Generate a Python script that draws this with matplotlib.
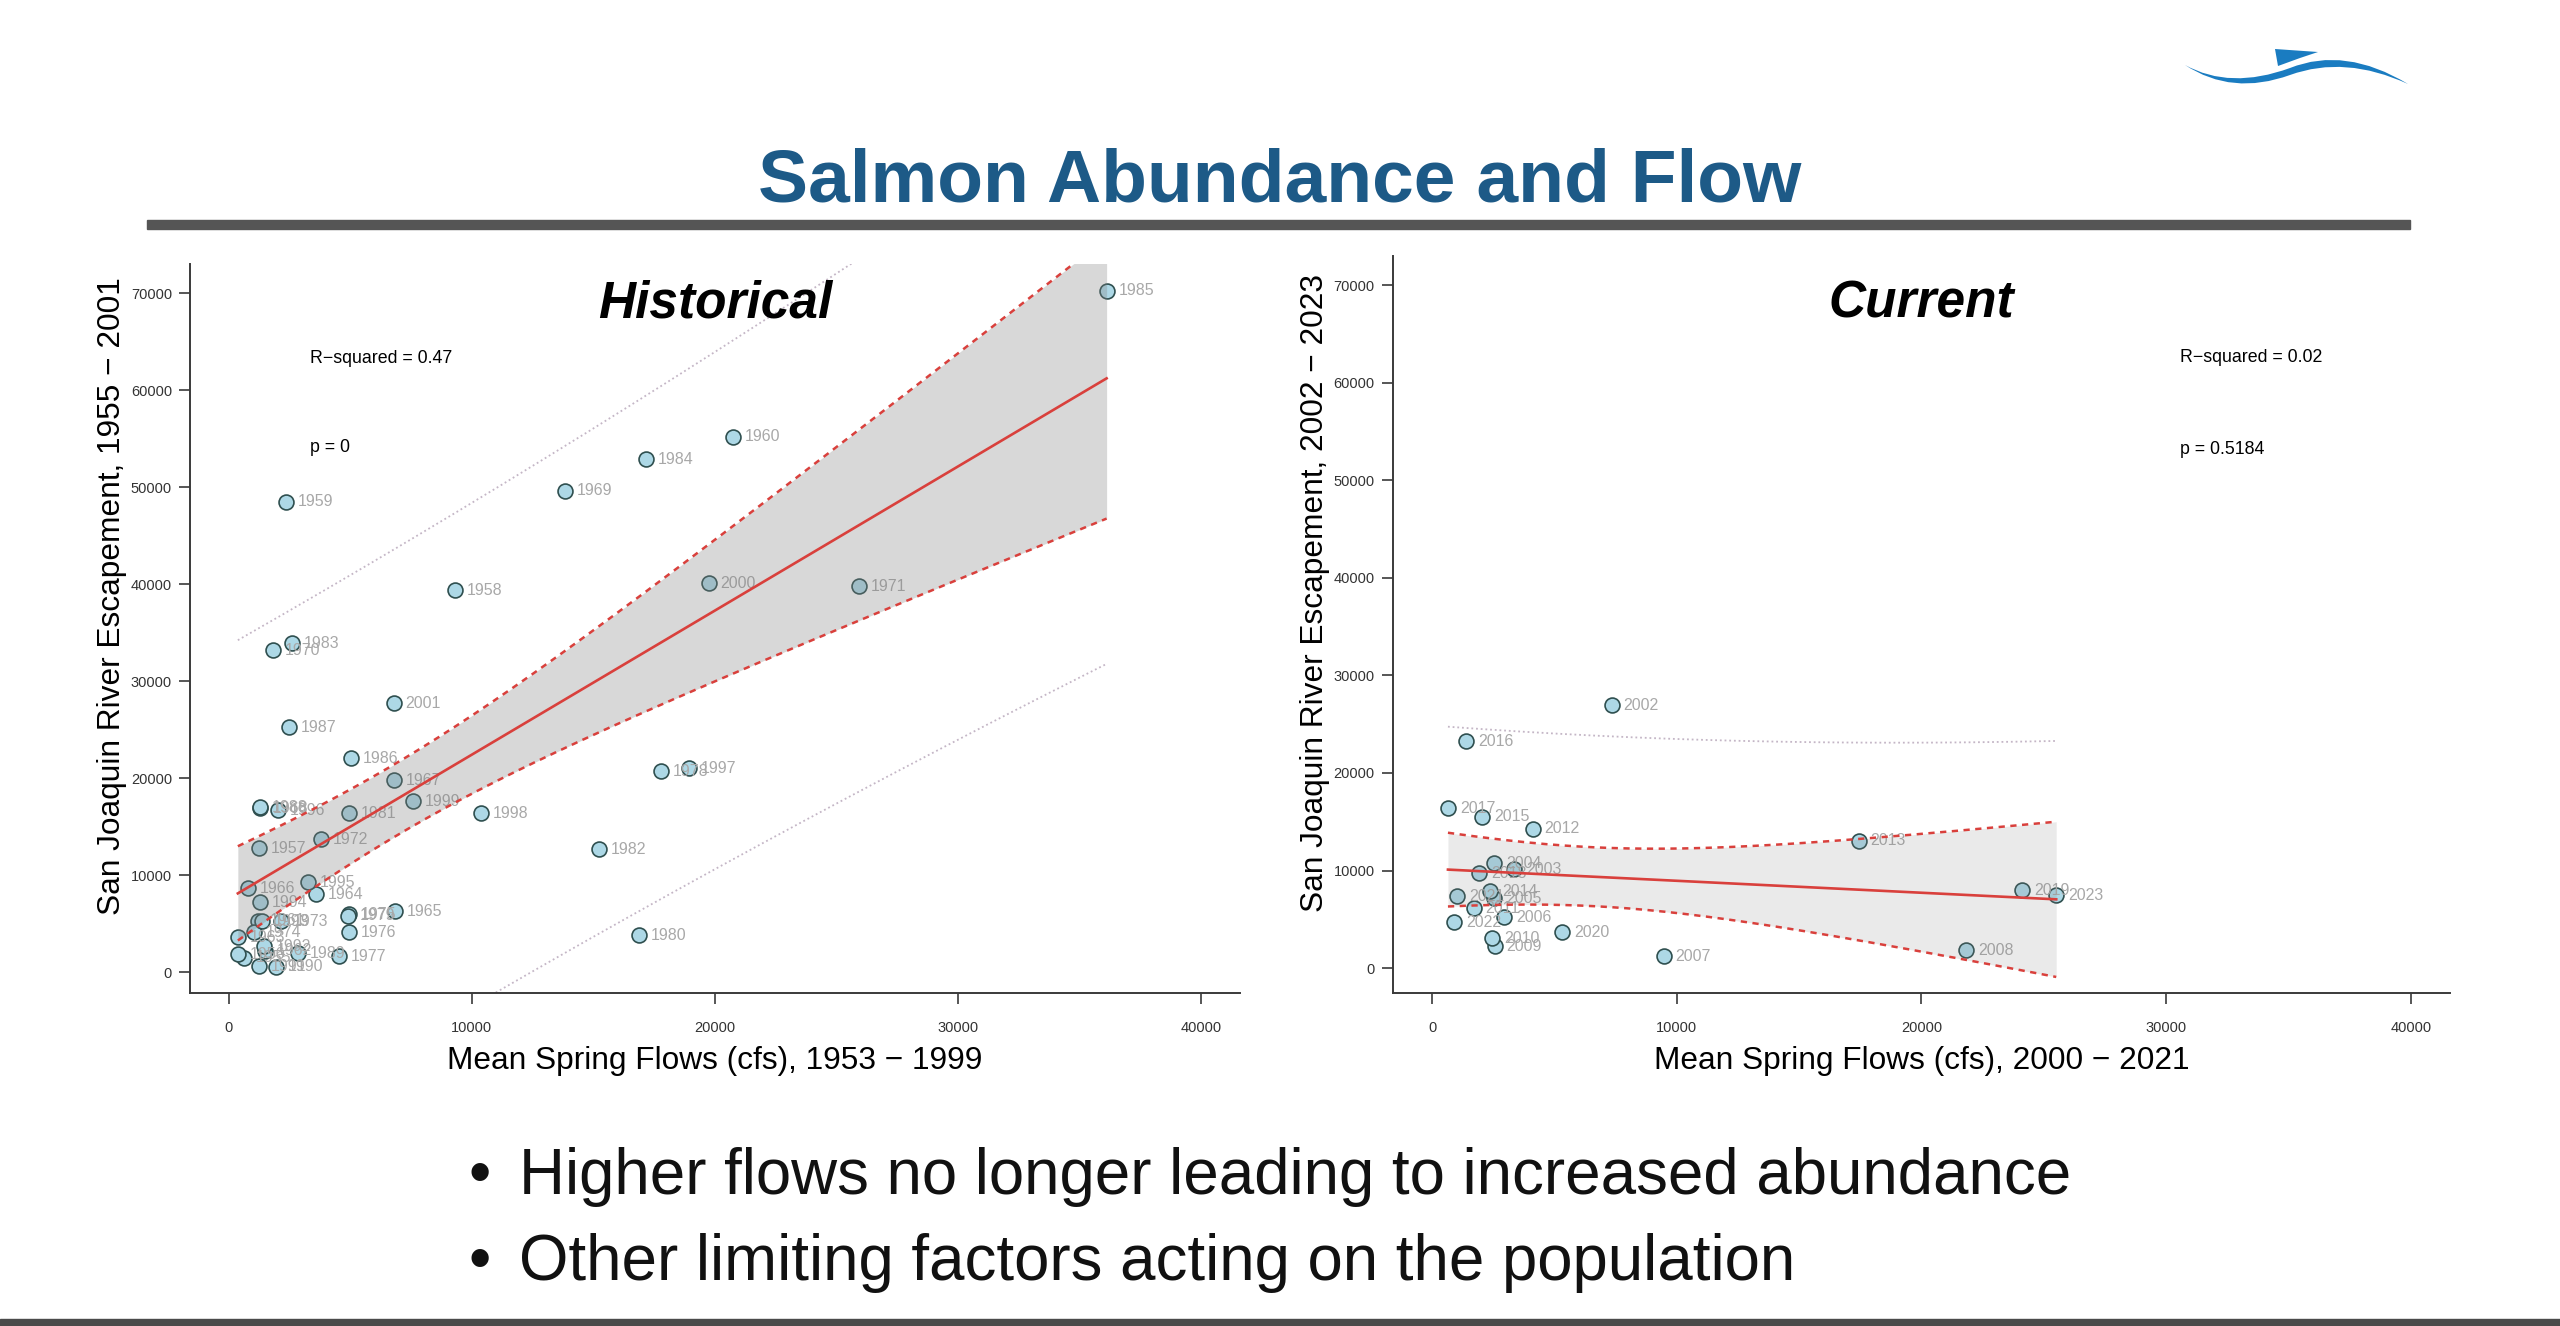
import numpy as np
import matplotlib.pyplot as plt
import matplotlib.transforms as mtransforms
from matplotlib.path import Path
from matplotlib.patches import PathPatch, Polygon, Rectangle

plt.rcParams['font.family'] = ['Liberation Sans', 'DejaVu Sans']

# historical period: escapement 1955-2001 against spring flows 1953-1999
hist_years = [1955, 1956, 1957, 1958, 1959, 1960, 1961, 1962, 1963, 1964,
              1965, 1966, 1967, 1968, 1969, 1970, 1971, 1972, 1973, 1974,
              1975, 1976, 1977, 1978, 1979, 1980, 1981, 1982, 1983, 1984,
              1985, 1986, 1987, 1988, 1989, 1990, 1991, 1992, 1993, 1994,
              1995, 1996, 1997, 1998, 1999, 2000, 2001]
hist_flow = [620, 370, 1230, 9300, 2350, 20720, 1200, 1500, 370, 3580,
             6830, 780, 6800, 1300, 13820, 1830, 25920, 3790, 2140, 1030,
             4940, 4940, 4530, 17780, 4900, 16870, 4940, 15230, 2580, 17150,
             36110, 5020, 2470, 1270, 2840, 1930, 1230, 1440, 1360, 1270,
             3250, 2010, 18930, 10370, 7570, 19740, 6790]
hist_esc = [1450, 1860, 12780, 39380, 48480, 55190, 5300, 2200, 3610, 8040,
            6290, 8660, 19800, 16900, 49620, 33200, 39790, 13710, 5260, 4120,
            5980, 4120, 1650, 20720, 5800, 3810, 16390, 12680, 33880, 52850,
            70240, 22060, 25260, 17010, 1960, 520, 620, 2680, 5260, 7220,
            9280, 16700, 21030, 16390, 17630, 40070, 27700]

# current period: escapement 2002-2023 against spring flows 2000-2021
cur_years = [2002, 2003, 2004, 2005, 2006, 2007, 2008, 2009, 2010, 2011, 2012,
             2013, 2014, 2015, 2016, 2017, 2018, 2019, 2020, 2021, 2022, 2023]
cur_flow = [7350, 3350, 2530, 2530, 2940, 9470, 21840, 2570, 2450, 1710, 4120,
            17430, 2370, 2040, 1390, 650, 1920, 24120, 5310, 1020, 900, 25510]
cur_esc = [26970, 10150, 10770, 7180, 5230, 1230, 1850, 2260, 3080, 6150, 14260,
           13030, 7900, 15490, 23280, 16410, 9740, 8000, 3690, 7380, 4720, 7490]

xticks = [0, 10000, 20000, 30000, 40000]
yticks = [0, 10000, 20000, 30000, 40000, 50000, 60000, 70000]

RED = '#d9403c'
AXC = '#3a3a3a'


def fit_bands(x, y, t):
    x = np.asarray(x, float)
    y = np.asarray(y, float)
    n = len(x)
    b, a = np.polyfit(x, y, 1)
    s = np.sqrt(((y - (a + b * x)) ** 2).sum() / (n - 2))
    xx = np.linspace(x.min(), x.max(), 200)
    yy = a + b * xx
    lev = 1 / n + (xx - x.mean()) ** 2 / ((x - x.mean()) ** 2).sum()
    return xx, yy, t * s * np.sqrt(lev), t * s * np.sqrt(1 + lev)


def panel(ax, years, flow, esc, t, band_alpha, ylim):
    ax.scatter(flow, esc, s=115, c='#add8e6', edgecolors='#2f4f4f',
               linewidths=1.2, zorder=3)
    for yr, x, y in zip(years, flow, esc):
        ax.annotate(str(yr), (x, y), xytext=(8.5, 0), textcoords='offset points',
                    ha='left', va='center', fontsize=11.5, color='#a8a8a8',
                    zorder=3)
    xx, yy, ci, pi = fit_bands(flow, esc, t)
    ax.fill_between(xx, yy - ci, yy + ci, color='#808080', alpha=band_alpha,
                    lw=0, zorder=4)
    ax.plot(xx, yy, color=RED, lw=1.9, zorder=5)
    for sign in (1, -1):
        ax.plot(xx, yy + sign * ci, color=RED, lw=1.8, ls=(0, (2.5, 2.2)),
                zorder=5)
        ax.plot(xx, yy + sign * pi, color='#c4b6c6', lw=1.3, ls=(0, (1, 1.6)),
                zorder=2)

    ax.set_xlim(-1600, 41600)
    ax.set_ylim(*ylim)
    ax.set_xticks(xticks)
    ax.set_yticks(yticks)
    for side in ('top', 'right'):
        ax.spines[side].set_visible(False)
    for side in ('left', 'bottom'):
        ax.spines[side].set_color(AXC)
        ax.spines[side].set_linewidth(1.4)
    ax.tick_params(axis='both', direction='out', length=8, width=1.2,
                   color=AXC, labelcolor='#333333', labelsize=10.5)
    ax.tick_params(axis='x', pad=12)
    ax.tick_params(axis='y', pad=5)


fig = plt.figure(figsize=(25.6, 13.26), dpi=100)

ax1 = fig.add_axes([0.0742, 0.2511, 0.4102, 0.5498])
panel(ax1, hist_years, hist_flow, hist_esc, 2.014, 0.30, (-2165, 73000))
ax1.text(0.5, 0.926, 'Historical', transform=ax1.transAxes, ha='center',
         va='baseline', fontsize=37, fontweight='bold', fontstyle='italic')
ax1.text(3330, 62780, 'R\u2212squared = 0.47', fontsize=12.8, va='baseline')
ax1.text(3330, 53600, 'p = 0', fontsize=12.8, va='baseline')
ax1.set_xlabel('Mean Spring Flows (cfs), 1953 \u2212 1999', fontsize=22.8)
ax1.set_ylabel('San Joaquin River Escapement, 1955 \u2212 2001', fontsize=22.8)
ax1.xaxis.set_label_coords(0.5, -0.0727)
ax1.yaxis.set_label_coords(-0.0603, 0.545)

ax2 = fig.add_axes([0.5441, 0.2511, 0.4129, 0.5558])
panel(ax2, cur_years, cur_flow, cur_esc, 2.086, 0.16, (-2560, 73000))
ax2.text(0.5, 0.916, 'Current', transform=ax2.transAxes, ha='center',
         va='baseline', fontsize=37, fontweight='bold', fontstyle='italic')
ax2.text(30570, 62150, 'R\u2212squared = 0.02', fontsize=12.8, va='baseline')
ax2.text(30570, 52720, 'p = 0.5184', fontsize=12.8, va='baseline')
ax2.set_xlabel('Mean Spring Flows (cfs), 2000 \u2212 2021', fontsize=22.8)
ax2.set_ylabel('San Joaquin River Escapement, 2002 \u2212 2023', fontsize=22.8)
ax2.xaxis.set_label_coords(0.5, -0.072)
ax2.yaxis.set_label_coords(-0.0596, 0.543)

# slide title, rule and bullets
fig.text(0.5, 0.8477, 'Salmon Abundance and Flow', ha='center', va='baseline',
         fontsize=54, fontweight='bold', color='#1d5a87')
fig.add_artist(Rectangle((147 / 2560, 1 - 229 / 1326), (2410 - 147) / 2560,
                         9 / 1326, color='#555555', transform=fig.transFigure))
fig.add_artist(Rectangle((0, 0), 1, 7 / 1326, color='#4a4a4a',
                         transform=fig.transFigure))

bullets = ['Higher flows no longer leading to increased abundance',
           'Other limiting factors acting on the population']
for i, line in enumerate(bullets):
    yb = 0.0995 - i * 0.0648
    fig.text(0.183, yb, '\u2022', fontsize=45.8, va='baseline', color='#111111')
    fig.text(0.2028, yb, line, fontsize=45.8, va='baseline', color='#111111')

# logo swoosh in the top right corner (pixel coordinates, y downwards)
px = mtransforms.Affine2D().scale(1 / 2560, -1 / 1326).translate(0, 1) + fig.transFigure
verts = [(2185, 65), (2230, 90), (2290, 68), (2345, 46), (2408, 84),
         (2345, 55), (2290, 75), (2232, 96), (2185, 65), (2185, 65)]
codes = [Path.MOVETO, Path.CURVE3, Path.CURVE3, Path.CURVE3, Path.CURVE3,
         Path.CURVE3, Path.CURVE3, Path.CURVE3, Path.CURVE3, Path.CLOSEPOLY]
fig.add_artist(PathPatch(Path(verts, codes), facecolor='#1a7cc1', lw=0,
                         transform=px))
fig.add_artist(Polygon([(2275, 49), (2318, 52), (2300, 58), (2278, 66)],
                       closed=True, facecolor='#1a7cc1', lw=0, transform=px))

fig.savefig('out.png', dpi=100, facecolor='white')
